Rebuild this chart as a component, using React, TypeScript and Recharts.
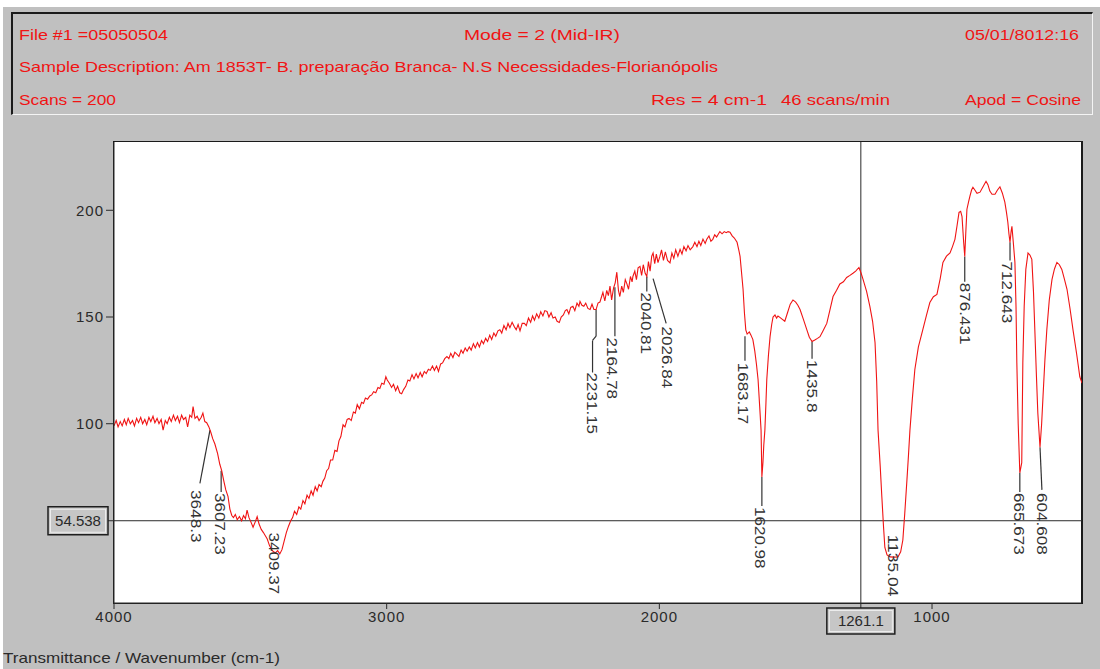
import React from "react";
import { LineChart, Line, XAxis, YAxis, ReferenceLine, ReferenceDot } from "recharts";

// IR spectrum: [wavenumber cm-1, transmittance]
const spectrum: [number, number][] = [
  [4000, 99], [3992, 101.5], [3985, 98.5], [3977, 101], [3970, 99], [3962, 102], [3955, 99.5], [3948, 102.5],
  [3940, 100], [3932, 101.5], [3925, 99], [3917, 102.5], [3910, 100.5], [3902, 103], [3895, 100], [3887, 102],
  [3880, 99.5], [3872, 103], [3865, 101], [3857, 103.5], [3850, 100.5], [3842, 102.5], [3835, 100], [3827, 102],
  [3820, 97], [3812, 101.5], [3805, 100], [3797, 103], [3790, 101], [3782, 104], [3775, 101.5], [3767, 103.5],
  [3760, 100.5], [3752, 104], [3745, 102], [3737, 103], [3730, 98.5], [3722, 104], [3715, 103], [3710, 108],
  [3703, 102.5], [3695, 103.5], [3688, 101.5], [3680, 103], [3674, 105], [3667, 101], [3660, 100.5], [3652, 98.5],
  [3645, 96], [3638, 93], [3630, 90.5], [3620, 86], [3612, 81], [3605, 78], [3597, 73], [3590, 69],
  [3582, 66], [3575, 60], [3568, 57], [3562, 56], [3555, 57.5], [3548, 55], [3540, 56.5], [3532, 54.5],
  [3525, 57], [3518, 55.5], [3512, 59.5], [3505, 56], [3498, 54], [3490, 51.5], [3482, 54], [3475, 56.5],
  [3468, 53], [3460, 50.5], [3452, 49], [3445, 47.5], [3438, 46], [3430, 43], [3422, 41], [3415, 40],
  [3408, 39.5], [3400, 40.5], [3392, 39], [3384, 41], [3376, 45], [3368, 49], [3360, 52], [3352, 54.5],
  [3345, 56], [3338, 59], [3330, 57.5], [3322, 61], [3315, 60], [3307, 64], [3300, 62.5], [3292, 66.5],
  [3285, 65], [3277, 68.5], [3270, 66.5], [3262, 70.5], [3255, 68.5], [3248, 71.5], [3240, 70.5], [3234, 73],
  [3227, 74.5], [3220, 78], [3213, 79], [3206, 83], [3198, 83], [3190, 87.5], [3182, 87], [3175, 92],
  [3168, 94], [3160, 99.5], [3153, 98.5], [3145, 102], [3138, 102.5], [3130, 101.5], [3122, 105.5], [3115, 105],
  [3108, 109], [3100, 107], [3092, 110], [3085, 109.5], [3078, 112], [3070, 111.5], [3062, 113], [3055, 113.5],
  [3048, 115], [3040, 114.5], [3032, 117], [3025, 116.5], [3018, 119], [3010, 118.5], [3003, 122], [2998, 120.5],
  [2990, 119], [2982, 117], [2975, 118.5], [2967, 115.5], [2960, 117.5], [2952, 114.5], [2945, 114], [2938, 116],
  [2930, 117.5], [2922, 120.5], [2915, 120], [2907, 123], [2900, 121], [2892, 123.5], [2885, 121.5], [2877, 124],
  [2870, 122], [2862, 124.5], [2855, 123.5], [2847, 125.5], [2840, 125], [2832, 127], [2825, 125], [2817, 127],
  [2810, 124.5], [2802, 128], [2795, 128.5], [2787, 130.5], [2779, 131.5], [2772, 130.5], [2765, 133], [2757, 131],
  [2750, 133.5], [2742, 132.5], [2735, 131.5], [2727, 134.5], [2720, 133], [2712, 135.5], [2705, 134], [2697, 136],
  [2690, 134.5], [2682, 137.5], [2675, 135.5], [2667, 138], [2660, 136], [2652, 139], [2645, 137.5], [2637, 140],
  [2630, 138.5], [2622, 141.5], [2615, 139.5], [2607, 142.5], [2600, 141], [2592, 143.5], [2585, 144], [2578, 142.5],
  [2570, 146], [2562, 144], [2555, 147], [2548, 145], [2540, 147.5], [2532, 145.5], [2525, 144], [2518, 146.5],
  [2511, 143.5], [2503, 147], [2495, 147], [2488, 146], [2480, 149.5], [2472, 147.5], [2465, 150.5], [2458, 148.5],
  [2450, 151.5], [2442, 149.5], [2435, 152.5], [2427, 150.5], [2420, 153], [2412, 152.6], [2405, 150], [2397, 152],
  [2390, 149.5], [2382, 150], [2375, 148], [2367, 147.4], [2360, 150], [2352, 151], [2345, 153], [2339, 153.5],
  [2332, 151.5], [2325, 154.5], [2317, 155], [2310, 153], [2302, 156.5], [2295, 155], [2291, 157.3], [2284, 155.5],
  [2277, 155], [2270, 156.5], [2262, 154], [2254, 153.5], [2247, 156], [2240, 153.5], [2232, 153.5], [2225, 156.5],
  [2218, 157], [2212, 159.5], [2207, 161.5], [2200, 157.5], [2193, 162.5], [2187, 160], [2181, 164.5], [2175, 158],
  [2168, 163.5], [2162, 166], [2156, 171], [2150, 162.5], [2145, 159.6], [2138, 164.5], [2132, 161.5], [2125, 167.5],
  [2119, 165.5], [2113, 163], [2106, 169], [2100, 166.5], [2097, 169], [2090, 171.5], [2084, 167.5], [2078, 173],
  [2071, 173.7], [2065, 169.5], [2059, 174.5], [2052, 170.5], [2046, 169], [2040, 176], [2034, 171.5], [2028, 178.5],
  [2023, 180], [2017, 175], [2011, 179.5], [2005, 175.5], [1998, 178.4], [1992, 181.5], [1985, 176.5], [1978, 180.5],
  [1970, 176.5], [1961, 175.4], [1954, 180], [1947, 177.5], [1940, 181.5], [1932, 178.5], [1924, 181.7], [1917, 179.5],
  [1910, 183], [1902, 181], [1895, 183.5], [1887, 181.5], [1877, 183], [1870, 185], [1862, 183], [1855, 185.5],
  [1848, 183.5], [1840, 186.5], [1832, 184.5], [1826, 186.4], [1818, 188], [1811, 185.5], [1804, 186.4], [1797, 188.5],
  [1790, 187.5], [1783, 189], [1778, 190], [1770, 189], [1762, 190], [1755, 189.5], [1748, 190], [1741, 189.7],
  [1733, 188], [1725, 187], [1715, 185], [1708, 181], [1704, 178.4], [1698, 170], [1693, 163], [1688, 152],
  [1683, 144], [1678, 142], [1670, 143], [1664, 141.5], [1657, 139.4], [1650, 134], [1644, 128], [1638, 120.7],
  [1632, 108], [1627, 97], [1624, 75], [1620, 82], [1617, 90], [1613, 97], [1609, 110], [1606, 120.7],
  [1600, 132], [1594, 140.8], [1588, 146.5], [1583, 150], [1576, 151], [1570, 149.5], [1565, 150.5], [1558, 149.8],
  [1550, 149], [1540, 148], [1530, 152], [1520, 156], [1510, 158], [1500, 157], [1492, 155.5], [1484, 153.5],
  [1472, 149], [1459, 144], [1450, 140.5], [1440, 138.5], [1430, 139.2], [1420, 140], [1411, 140.8], [1400, 143.5],
  [1386, 147], [1375, 153], [1363, 159.6], [1350, 162.5], [1338, 165.5], [1325, 166.5], [1313, 168.5], [1301, 169.5],
  [1290, 170.5], [1280, 171.5], [1268, 173.2], [1260, 170.5], [1253, 167.6], [1240, 162], [1228, 155], [1218, 148],
  [1209, 138], [1203, 120], [1198, 97], [1190, 80], [1184, 65.7], [1178, 52], [1173, 42], [1165, 38.5],
  [1154, 37.6], [1140, 37.5], [1125, 37.6], [1115, 40], [1107, 45.5], [1100, 58], [1092, 73.7], [1086, 86],
  [1081, 97], [1072, 112], [1063, 125.4], [1050, 136], [1034, 144], [1020, 151], [1008, 156.8], [995, 159.5],
  [982, 160.6], [970, 168], [960, 175.6], [947, 178.5], [934, 180], [925, 183], [916, 186.4], [908, 193],
  [901, 199], [895, 199.5], [890, 197], [884, 185], [880, 178.4], [876, 190], [872, 200.5], [866, 204],
  [861, 206.6], [855, 209.5], [850, 210.8], [843, 209.5], [835, 208], [824, 208.5], [813, 211], [802, 213.6],
  [795, 212], [788, 209], [780, 207.5], [769, 207.5], [760, 209.5], [751, 211], [742, 208], [733, 203.8],
  [727, 199], [722, 194.4], [718, 189], [714, 185], [710, 190], [707, 192.5], [702, 185], [696, 175.6],
  [692, 155], [689, 128.6], [684, 100], [678, 77], [671, 81.7], [667, 128.6], [662, 155], [656, 172.3],
  [648, 180], [641, 179], [634, 177], [628, 162], [623, 144], [617, 122], [612, 105], [604, 89],
  [598, 100], [593, 112.7], [586, 130], [579, 144], [570, 158], [560, 167.6], [551, 172.5], [542, 175.6],
  [533, 174.5], [524, 172.3], [515, 168], [505, 163], [494, 154], [483, 144], [470, 133], [458, 122],
  [450, 119],
];

const xTicks = [4000, 3000, 2000, 1000];
const yTicks = [100, 150, 200];
const xDomain = [450, 4000];
const yDomain = [16, 232];

const cursorWavenumber = 1261.1;
const cursorTransmittance = 54.538;

// peak annotations: leader polyline and top of the rotated label, in data units
const peakLabels = [
  { text: "3648.3", leader: [[3648, 97], [3685, 72]], pos: [3696, 69] },
  { text: "3607.23", leader: [[3607, 78], [3607, 68]], pos: [3608, 67.5] },
  { text: "3409.37", leader: [], pos: [3413, 49] },
  { text: "2231.15", leader: [[2232, 153.5], [2232, 141], [2245, 139], [2245, 124]], pos: [2245, 124] },
  { text: "2164.78", leader: [[2163, 164], [2163, 141]], pos: [2172, 140.4] },
  { text: "2040.81", leader: [[2046, 169], [2046, 162]], pos: [2046, 161.5] },
  { text: "2026.84", leader: [[2023, 168], [1975, 147]], pos: [1972, 145.5] },
  { text: "1683.17", leader: [[1686, 141], [1686, 129.5]], pos: [1693, 128.6] },
  { text: "1620.98", leader: [[1624, 75], [1624, 61.5]], pos: [1631, 61] },
  { text: "1435.8", leader: [[1440, 138.5], [1440, 130.5]], pos: [1440, 130] },
  { text: "1135.04", leader: [], pos: [1140, 48] },
  { text: "876.431", leader: [[880, 178.4], [880, 166.5]], pos: [879, 166] },
  { text: "712.643", leader: [[714, 185], [714, 176.5]], pos: [722, 176] },
  { text: "665.673", leader: [[678, 77], [678, 68]], pos: [678, 67.5] },
  { text: "604.608", leader: [[604, 89], [597, 69]], pos: [597, 67.5] },
];

const headerItems = [
  { text: "File #1 =05050504", x: 19, y: 40, w: 149 },
  { text: "Mode = 2 (Mid-IR)", x: 464, y: 40, w: 156 },
  { text: "05/01/8012:16", x: 965, y: 40, w: 114 },
  { text: "Sample Description: Am 1853T- B. preparação Branca- N.S Necessidades-Florianópolis", x: 19, y: 72, w: 699 },
  { text: "Scans = 200", x: 19, y: 105, w: 97 },
  { text: "Res = 4 cm-1", x: 651, y: 105, w: 116 },
  { text: "46 scans/min", x: 781, y: 105, w: 109 },
  { text: "Apod = Cosine", x: 965, y: 105, w: 116 },
];

const FONT = '"Liberation Sans", Arial, sans-serif';
const RED = "#f01414";
const INK = "#2a2a2a";

const data = spectrum.map(([wn, t]) => ({ wn, t }));

function PeakText({ cx, cy, text }: any) {
  if (cx == null || cy == null) return null;
  return (
    <text
      transform={`translate(${cx},${cy}) rotate(90)`}
      x={0}
      y={0}
      dy="0.36em"
      fontSize={15}
      fontFamily={FONT}
      fill="#333"
      textLength={text.length * 8.8}
      lengthAdjust="spacingAndGlyphs"
    >
      {text}
    </text>
  );
}

function ValueBox({ x, y, w, h, text }: any) {
  return (
    <g>
      <rect x={x} y={y} width={w} height={h} fill="#c6c6c6" stroke="#1e1e1e" strokeWidth={1.5} />
      <rect x={x + 2.5} y={y + 2.5} width={w - 5} height={h - 5} fill="none" stroke="#ececec" strokeWidth={1} />
      <text x={x + w / 2} y={y + h / 2} dy="0.36em" textAnchor="middle" fontSize={15} fontFamily={FONT} fill={INK}>
        {text}
      </text>
    </g>
  );
}

function YCursorLabel({ viewBox }: any) {
  const { x, y } = viewBox;
  return (
    <g>
      <line x1={x - 6} x2={x} y1={y} y2={y} stroke={INK} />
      <ValueBox x={x - 66} y={y - 14} w={60} h={28} text={String(cursorTransmittance)} />
    </g>
  );
}

function XCursorLabel({ viewBox }: any) {
  const { x, y, height } = viewBox;
  const b = y + height;
  return (
    <g>
      <line x1={x} x2={x} y1={b} y2={b + 5} stroke={INK} />
      <ValueBox x={x - 34} y={b + 5} w={68} h={26} text={String(cursorWavenumber)} />
    </g>
  );
}

export default function App() {
  return (
    <div
      style={{
        position: "fixed",
        left: 0,
        top: 0,
        width: 1100,
        height: 669,
        background: "#ffffff",
        overflow: "hidden",
        fontFamily: FONT,
      }}
    >
      {/* grey window */}
      <div style={{ position: "absolute", left: 3, top: 7, width: 1097, height: 662, background: "#c0c0c0" }} />

      {/* header panel */}
      <div
        style={{
          position: "absolute",
          left: 11,
          top: 12,
          width: 1082,
          height: 103,
          boxSizing: "border-box",
          borderTop: "2px solid #1a1a1a",
          borderLeft: "2px solid #1a1a1a",
          borderBottom: "1px solid #f4f4f4",
          borderRight: "1px solid #f4f4f4",
          background: "#c0c0c0",
        }}
      />
      <svg width={1100} height={130} style={{ position: "absolute", left: 0, top: 0 }}>
        {headerItems.map((h) => (
          <text
            key={h.text}
            x={h.x}
            y={h.y}
            fontSize={15}
            fontFamily={FONT}
            fill={RED}
            textLength={h.w}
            lengthAdjust="spacingAndGlyphs"
          >
            {h.text}
          </text>
        ))}
      </svg>

      {/* plot background + frame */}
      <div
        style={{
          position: "absolute",
          left: 113,
          top: 141,
          width: 970,
          height: 463,
          boxSizing: "border-box",
          border: "1px solid #1a1a1a",
          borderRight: "2px solid #1a1a1a",
          background: "#ffffff",
        }}
      />

      <div style={{ position: "absolute", left: 0, top: 0 }}>
        <LineChart
          width={1100}
          height={669}
          data={data}
          margin={{ top: 142, right: 18, bottom: 26, left: 54 }}
        >
          <XAxis
            dataKey="wn"
            type="number"
            domain={xDomain}
            reversed
            ticks={xTicks}
            allowDataOverflow
            height={40}
            tickSize={6}
            tick={{ fontSize: 15, fill: INK, fontFamily: FONT, letterSpacing: 1 }}
            stroke={INK}
          />
          <YAxis
            type="number"
            domain={yDomain}
            ticks={yTicks}
            allowDataOverflow
            width={60}
            tickSize={8}
            tick={{ fontSize: 15, fill: INK, fontFamily: FONT, letterSpacing: 1 }}
            stroke={INK}
          />
          <ReferenceLine y={cursorTransmittance} stroke={INK} strokeWidth={1} label={<YCursorLabel />} />
          <ReferenceLine x={cursorWavenumber} stroke={INK} strokeWidth={1} label={<XCursorLabel />} />
          {peakLabels.flatMap((p) =>
            p.leader.slice(1).map((pt, i) => (
              <ReferenceLine
                key={`${p.text}-l${i}`}
                segment={[
                  { x: p.leader[i][0], y: p.leader[i][1] },
                  { x: pt[0], y: pt[1] },
                ]}
                stroke="#333"
                strokeWidth={1.2}
              />
            ))
          )}
          <Line
            type="linear"
            dataKey="t"
            stroke={RED}
            strokeWidth={1.1}
            dot={false}
            activeDot={false}
            isAnimationActive={false}
          />
          {peakLabels.map((p) => (
            <ReferenceDot
              key={p.text}
              x={p.pos[0]}
              y={p.pos[1]}
              r={0}
              shape={(props: any) => <PeakText cx={props.cx} cy={props.cy} text={p.text} />}
            />
          ))}
        </LineChart>
      </div>

      <svg width={400} height={30} style={{ position: "absolute", left: 0, top: 645 }}>
        <text x={3} y={18} fontSize={15} fontFamily={FONT} fill={INK} textLength={277} lengthAdjust="spacingAndGlyphs">
          Transmittance / Wavenumber (cm-1)
        </text>
      </svg>
    </div>
  );
}
